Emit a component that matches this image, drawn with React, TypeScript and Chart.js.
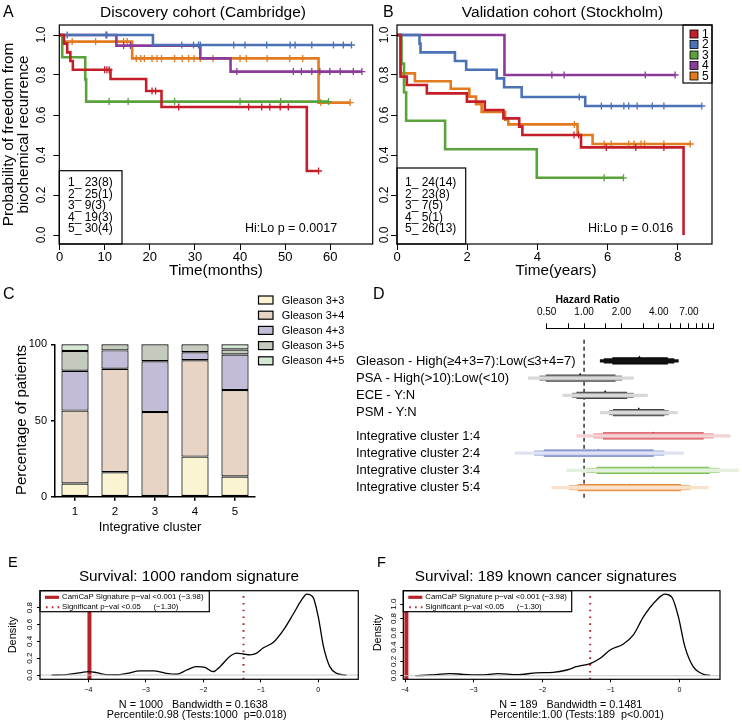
import React, { useEffect, useRef } from "react";
import { Chart, registerables } from "chart.js";

Chart.register(...registerables);

const SANS = '"Liberation Sans", Arial, Helvetica, sans-serif';
Chart.defaults.font.family = SANS;
Chart.defaults.color = "#000";

// ================= Panel A: Discovery cohort (time in months) =================
const aCountLabels = ["1_ 23(8)", "2_ 25(1)", "3_ 9(3)", "4_ 19(3)", "5_ 30(4)"];
const aC1Time = [0, 1.0, 1.7, 2.4, 2.95, 11.3, 19.2, 22.6, 54.8, 57.4];
const aC1Surv = [1, 0.957, 0.913, 0.87, 0.826, 0.78, 0.72, 0.64, 0.32, 0.32];
const aC1Cens = [10.0, 10.5, 11.0, 20.5, 21.3, 26.4, 41.9, 44.8, 46.6, 48.9, 50.7, 57.4];
const aC2Time = [0, 20.7, 64.7];
const aC2Surv = [1, 0.95, 0.95];
const aC2Cens = [1.7, 10.5, 27.1, 29.7, 30.8, 31.2, 38.6, 41.1, 45.9, 51.1, 52.2, 55.9, 60.7, 62.9, 64.7];
const aC3Time = [0, 0.6, 5.7, 5.9, 59.6];
const aC3Surv = [1, 0.889, 0.778, 0.667, 0.667];
const aC3Cens = [11.0, 15.2, 25.5, 40.0, 49.0, 59.6];
const aC4Time = [0, 12.6, 31.2, 37.9, 67.0];
const aC4Surv = [1, 0.947, 0.883, 0.817, 0.817];
const aC4Cens = [10.3, 14.2, 15.7, 39.3, 51.8, 53.6, 55.9, 57.7, 59.9, 62.2, 65.1, 67.0];
const aC5Time = [0, 0.7, 16.1, 57.4, 64.4];
const aC5Surv = [1, 0.967, 0.883, 0.662, 0.662];
const aC5Cens = [2.8, 8.0, 14.2, 15.0, 17.0, 18.0, 18.8, 20.5, 21.6, 22.6, 25.5, 27.2, 28.6, 29.8, 31.2, 34.0, 40.0, 41.4, 46.0, 51.0, 53.9, 57.9, 64.4];
const aXTicks = [0, 10, 20, 30, 40, 50, 60];

// ================= Panel B: Validation cohort (time in years) =================
const bCountLabels = ["1_ 24(14)", "2_ 23(8)", "3_ 7(5)", "4_ 5(1)", "5_ 26(13)"];
const bC1Time = [0, 0.1, 0.28, 0.85, 1.99, 2.5, 3.03, 3.48, 3.57, 5.24, 8.16];
const bC1Surv = [1, 0.792, 0.75, 0.708, 0.667, 0.625, 0.583, 0.542, 0.5, 0.438, 0];
const bC1Cens = [5.04, 5.17, 5.96, 6.8, 7.6];
const bC2Time = [0, 0.64, 0.67, 1.65, 1.97, 2.84, 3.05, 3.55, 5.36, 8.68];
const bC2Surv = [1, 0.957, 0.913, 0.87, 0.826, 0.783, 0.739, 0.69, 0.645, 0.645];
const bC2Cens = [5.19, 5.82, 6.1, 6.46, 6.6, 6.84, 7.27, 7.6, 8.68];
const bC3Time = [0, 0.13, 0.2, 0.26, 1.37, 3.98, 6.45];
const bC3Surv = [1, 0.857, 0.714, 0.571, 0.429, 0.286, 0.286];
const bC3Cens = [5.9, 6.45];
const bC4Time = [0, 3.06, 7.92];
const bC4Surv = [1, 0.8, 0.8];
const bC4Cens = [4.41, 4.76, 7.07, 7.92];
const bC5Time = [0, 0.1, 0.51, 1.53, 2.06, 2.25, 2.41, 3.08, 3.17, 5.14, 5.57, 8.35];
const bC5Surv = [1, 0.808, 0.769, 0.731, 0.692, 0.654, 0.615, 0.577, 0.553, 0.5, 0.455, 0.455];
const bC5Cens = [5.05, 5.9, 6.1, 6.6, 6.75, 6.95, 7.05, 7.6, 8.35];
const bXTicks = [0, 2, 4, 6, 8];
const clusterNames = ["1", "2", "3", "4", "5"];
const kmYTicks = [0, 0.2, 0.4, 0.6, 0.8, 1.0];

// ================= Panel C: Gleason composition (% of patients) =================
const gleasonLabels = ["Gleason 3+3", "Gleason 3+4", "Gleason 4+3", "Gleason 3+5", "Gleason 4+5"];
const g33 = [8.7, 16.0, 0, 26.3, 13.3];
const g34 = [47.8, 68.0, 55.6, 63.2, 56.7];
const g43 = [26.1, 12.0, 33.3, 5.3, 23.3];
const g35 = [13.0, 4.0, 11.1, 5.2, 3.3];
const g45 = [4.4, 0, 0, 0, 3.4];
const cYTicks = [0, 50, 100];

// ================= Panel D: Hazard ratios =================
const hrLabels = [
  "Gleason - High(≥4+3=7):Low(≤3+4=7)",
  "PSA - High(>10):Low(<10)",
  "ECE - Y:N",
  "PSM - Y:N",
  "Integrative cluster 1:4",
  "Integrative cluster 2:4",
  "Integrative cluster 3:4",
  "Integrative cluster 5:4",
];
const hrEstimate = [2.79, 0.93, 1.48, 2.76, 3.62, 1.31, 3.58, 2.32];
const hrOuterLow = [1.35, 0.356, 0.674, 1.35, 0.873, 0.278, 0.725, 0.549];
const hrOuterHigh = [5.75, 2.5, 3.24, 5.65, 15.0, 6.31, 17.5, 10.0];
const hrMidLow = [1.45, 0.44, 0.805, 1.6, 1.2, 0.398, 1.05, 0.761];
const hrMidHigh = [5.3, 2.01, 2.5, 4.78, 11.0, 4.41, 12.3, 7.15];
const hrInnerLow = [1.7, 0.494, 0.873, 1.72, 1.43, 0.476, 1.27, 0.9];
const hrInnerHigh = [4.7, 1.78, 2.21, 4.41, 9.15, 3.62, 10.2, 6.01];
const hrTicks = [0.5, 0.75, 1, 1.5, 2, 3, 4, 5, 6, 7, 8, 9, 10, 11];
const hrLabelledTicks = [0.5, 1, 2, 4, 7];

// ================= Panels E / F: density of signature scores =================
const eX = [-4.64, -4.38, -4.12, -4.0, -3.86, -3.68, -3.51, -3.33, -3.1, -2.87, -2.64, -2.46, -2.29, -2.12, -1.97, -1.83, -1.71, -1.54, -1.42, -1.3, -1.19, -1.07, -0.96, -0.78, -0.61, -0.43, -0.29, -0.2, -0.09, 0.0, 0.09, 0.2, 0.32, 0.49];
const eY = [0.0, 0.005, 0.03, 0.04, 0.03, 0.005, 0.004, 0.02, 0.05, 0.05, 0.02, 0.01, 0.06, 0.1, 0.09, 0.04, 0.1, 0.22, 0.26, 0.25, 0.24, 0.26, 0.32, 0.39, 0.53, 0.73, 0.89, 0.96, 0.92, 0.69, 0.34, 0.1, 0.02, 0.0];
const fX = [-3.85, -3.63, -3.34, -3.15, -2.9, -2.64, -2.37, -2.08, -1.84, -1.64, -1.5, -1.3, -1.16, -1.01, -0.82, -0.67, -0.52, -0.33, -0.21, -0.11, -0.015, 0.08, 0.2, 0.35, 0.45];
const fY = [0.0, 0.01, 0.03, 0.02, 0.01, 0.03, 0.014, 0.04, 0.047, 0.08, 0.126, 0.17, 0.24, 0.36, 0.44, 0.57, 0.83, 1.06, 1.14, 1.1, 0.83, 0.41, 0.13, 0.02, 0.005];
const camcapScore = -3.98;
const significanceCut = -1.3;
const densXTicks = [-4, -3, -2, -1, 0];
const eYTicks = [0, 0.2, 0.4, 0.6, 0.8];
const fYTicks = [0, 0.2, 0.4, 0.6, 0.8, 1.0];
const sigLegendTexts = ["CamCaP Signature p\u2212val <0.001 (\u22123.98)", "Significant p\u2212val <0.05", "(\u22121.30)"];

// ================= styles =================
const KM_COLORS = ["#C41E2A", "#4A72B5", "#5AA23B", "#8B3B98", "#E27A1F"];
const GLEASON_COLORS = ["#FAF4D3", "#E8D4C4", "#C3BCD8", "#C4CBBE", "#D4E8D3"];
const SIG_RED = "#B8222A";

type Txt = { t: string; x: number; y: number; size: number; align?: CanvasTextAlign; rot?: boolean; bold?: boolean };

function putText(ctx: CanvasRenderingContext2D, it: Txt, ox: number, oy: number) {
  ctx.save();
  ctx.font = `${it.bold ? "bold " : ""}${it.size}px ${SANS}`;
  ctx.fillStyle = "#000";
  ctx.textAlign = it.align || "left";
  ctx.textBaseline = "middle";
  ctx.translate(it.x - ox, it.y - oy);
  if (it.rot) ctx.rotate(-Math.PI / 2);
  ctx.fillText(it.t, 0, 0);
  ctx.restore();
}

function textPlugin(ox: number, oy: number, items: Txt[]) {
  return {
    id: "texts",
    afterDraw(chart: any) {
      items.forEach((it) => putText(chart.ctx, it, ox, oy));
    },
  };
}

function boxPlugin(lw: number) {
  return {
    id: "box",
    afterDraw(chart: any) {
      const { left, top, right, bottom } = chart.chartArea;
      const ctx = chart.ctx;
      ctx.save();
      ctx.strokeStyle = "#000";
      ctx.lineWidth = lw;
      ctx.strokeRect(left, top, right - left, bottom - top);
      ctx.restore();
    },
  };
}

function rotYTicks(offset: number, size: number, digits: number) {
  return {
    id: "rotY",
    afterDraw(chart: any) {
      const s = chart.scales.y;
      const ctx = chart.ctx;
      const x = chart.chartArea.left - offset;
      ctx.save();
      ctx.font = `${size}px ${SANS}`;
      ctx.fillStyle = "#000";
      ctx.textAlign = "center";
      ctx.textBaseline = "middle";
      s.ticks.forEach((tk: any) => {
        const y = s.getPixelForValue(tk.value);
        ctx.save();
        ctx.translate(x, y);
        ctx.rotate(-Math.PI / 2);
        ctx.fillText(Number(tk.value).toFixed(digits), 0, 0);
        ctx.restore();
      });
      ctx.restore();
    },
  };
}

function survAt(time: number[], surv: number[], t: number) {
  let s = surv[0];
  for (let i = 0; i < time.length; i++) if (time[i] <= t + 1e-9) s = surv[i];
  return s;
}

type Curve = { time: number[]; surv: number[]; cens: number[] };

function kmDatasets(curves: Curve[]) {
  const ds: any[] = [];
  curves.forEach((c, i) => {
    ds.push({
      type: "line",
      data: c.time.map((t, j) => ({ x: t, y: c.surv[j] })),
      borderColor: KM_COLORS[i],
      borderWidth: 2.6,
      stepped: true,
      pointRadius: 0,
      fill: false,
    });
    ds.push({
      type: "scatter",
      data: c.cens.map((t) => ({ x: t, y: survAt(c.time, c.surv, t) })),
      pointStyle: "cross",
      pointRadius: 3.5,
      borderColor: KM_COLORS[i],
      backgroundColor: KM_COLORS[i],
      borderWidth: 1.3,
    });
  });
  return ds;
}

function countLegend(ox: number, oy: number, rect: number[], textX: number, labels: string[]) {
  return {
    id: "countLegend",
    afterDatasetsDraw(chart: any) {
      const ctx = chart.ctx;
      const [x1, y1, x2, y2] = rect;
      ctx.save();
      ctx.fillStyle = "#fff";
      ctx.fillRect(x1 - ox, y1 - oy, x2 - x1, y2 - y1);
      ctx.strokeStyle = "#000";
      ctx.lineWidth = 1.2;
      ctx.strokeRect(x1 - ox, y1 - oy, x2 - x1, y2 - y1);
      ctx.font = `12px ${SANS}`;
      ctx.fillStyle = "#000";
      ctx.textBaseline = "middle";
      ctx.textAlign = "left";
      labels.forEach((l, i) => ctx.fillText(l, textX - ox, 183 + i * 11.5 - oy));
      ctx.restore();
    },
  };
}

function colorLegend(ox: number, oy: number) {
  return {
    id: "colorLegend",
    afterDatasetsDraw(chart: any) {
      const ctx = chart.ctx;
      ctx.save();
      ctx.fillStyle = "#fff";
      ctx.fillRect(683 - ox, 25 - oy, 29, 58);
      ctx.strokeStyle = "#000";
      ctx.lineWidth = 1.2;
      ctx.strokeRect(683 - ox, 25 - oy, 29, 58);
      ctx.font = `12px ${SANS}`;
      ctx.textBaseline = "middle";
      clusterNames.forEach((n, i) => {
        const y = 34 + i * 10.5 - oy;
        ctx.fillStyle = KM_COLORS[i];
        ctx.fillRect(690 - ox, y - 4, 8, 8);
        ctx.strokeStyle = "#000";
        ctx.lineWidth = 0.8;
        ctx.strokeRect(690 - ox, y - 4, 8, 8);
        ctx.fillStyle = "#000";
        ctx.fillText(n, 702 - ox, y + 0.5);
      });
      ctx.restore();
    },
  };
}

function buildKM(p: {
  curves: Curve[];
  xMin: number;
  xMax: number;
  xTicks: number[];
  yWidth: number;
  yLabelOffset: number;
  padRight: number;
  plugins: any[];
}) {
  return {
    type: "line",
    data: { datasets: kmDatasets(p.curves) },
    options: {
      responsive: false,
      maintainAspectRatio: false,
      animation: false,
      events: [],
      layout: { padding: { top: 25, right: p.padRight, left: 0, bottom: 0 } },
      plugins: { legend: { display: false }, tooltip: { enabled: false } },
      scales: {
        x: {
          type: "linear",
          min: p.xMin,
          max: p.xMax,
          bounds: "data",
          afterBuildTicks: (s: any) => {
            s.ticks = p.xTicks.map((v) => ({ value: v }));
          },
          ticks: { font: { size: 13 }, color: "#000", padding: 0, maxRotation: 0, autoSkip: false },
          grid: { drawOnChartArea: false, tickLength: 6, color: "#000", lineWidth: 1 },
          border: { display: false },
          afterFit: (s: any) => {
            s.height = 46;
          },
        },
        y: {
          type: "linear",
          min: -0.045,
          max: 1.05,
          bounds: "data",
          afterBuildTicks: (s: any) => {
            s.ticks = kmYTicks.map((v) => ({ value: v }));
          },
          ticks: { display: false },
          grid: { drawOnChartArea: false, tickLength: 6, color: "#000", lineWidth: 1 },
          border: { display: false },
          afterFit: (s: any) => {
            s.width = p.yWidth;
          },
        },
      },
    },
    plugins: [boxPlugin(1.2), rotYTicks(p.yLabelOffset, 12, 1), ...p.plugins],
  };
}

function buildA() {
  const curves = [
    { time: aC1Time, surv: aC1Surv, cens: aC1Cens },
    { time: aC2Time, surv: aC2Surv, cens: aC2Cens },
    { time: aC3Time, surv: aC3Surv, cens: aC3Cens },
    { time: aC4Time, surv: aC4Surv, cens: aC4Cens },
    { time: aC5Time, surv: aC5Surv, cens: aC5Cens },
  ];
  return buildKM({
    curves,
    xMin: -0.05,
    xMax: 69.4,
    xTicks: aXTicks,
    yWidth: 59.3,
    yLabelOffset: 18,
    padRight: 5,
    plugins: [
      countLegend(0, 0, [59.3, 170.7, 122, 244], 68, aCountLabels),
      textPlugin(0, 0, [
        { t: "A", x: 3, y: 13, size: 16 },
        { t: "Discovery cohort (Cambridge)", x: 203, y: 13, size: 15.5, align: "center" },
        { t: "Probability of freedom from", x: 9, y: 134.5, size: 15.3, align: "center", rot: true },
        { t: "biochemical recurrence", x: 23.5, y: 134.5, size: 15.3, align: "center", rot: true },
        { t: "Time(months)", x: 216, y: 271, size: 15.3, align: "center" },
        { t: "Hi:Lo p = 0.0017", x: 245, y: 229, size: 12.5 },
      ]),
    ],
  });
}

function buildB() {
  const ox = 378;
  const curves = [
    { time: bC1Time, surv: bC1Surv, cens: bC1Cens },
    { time: bC2Time, surv: bC2Surv, cens: bC2Cens },
    { time: bC3Time, surv: bC3Surv, cens: bC3Cens },
    { time: bC4Time, surv: bC4Surv, cens: bC4Cens },
    { time: bC5Time, surv: bC5Surv, cens: bC5Cens },
  ];
  return buildKM({
    curves,
    xMin: 0,
    xMax: 8.97,
    xTicks: bXTicks,
    yWidth: 19,
    yLabelOffset: 12,
    padRight: 30,
    plugins: [
      countLegend(ox, 0, [397, 168, 465.7, 244], 405, bCountLabels),
      colorLegend(ox, 0),
      textPlugin(ox, 0, [
        { t: "B", x: 383, y: 13, size: 16 },
        { t: "Validation cohort (Stockholm)", x: 562.5, y: 13, size: 15.5, align: "center" },
        { t: "Time(years)", x: 556, y: 271, size: 15.3, align: "center" },
        { t: "Hi:Lo p = 0.016", x: 588, y: 229, size: 12.5 },
      ]),
    ],
  });
}

function buildC() {
  const ox = 0;
  const oy = 285;
  const series = [g33, g34, g43, g35, g45];
  const legendPlugin = {
    id: "gleasonLegend",
    afterDraw(chart: any) {
      const ctx = chart.ctx;
      ctx.save();
      ctx.font = `11px ${SANS}`;
      ctx.textBaseline = "middle";
      gleasonLabels.forEach((l, i) => {
        const y = 300 + i * 15.2 - oy;
        ctx.fillStyle = GLEASON_COLORS[i];
        ctx.fillRect(258.5 - ox, y - 4, 14.5, 8);
        ctx.strokeStyle = "#000";
        ctx.lineWidth = 1.2;
        ctx.strokeRect(258.5 - ox, y - 4, 14.5, 8);
        ctx.fillStyle = "#000";
        ctx.fillText(l, 281.7 - ox, y + 0.5);
      });
      ctx.restore();
    },
  };
  return {
    type: "bar",
    data: {
      labels: clusterNames,
      datasets: series.map((d, i) => ({
        label: gleasonLabels[i],
        data: d,
        backgroundColor: GLEASON_COLORS[i],
        borderColor: "#000",
        borderWidth: 1.2,
        borderSkipped: false,
        barPercentage: 0.68,
        categoryPercentage: 1,
        clip: false,
      })),
    },
    options: {
      responsive: false,
      maintainAspectRatio: false,
      animation: false,
      events: [],
      layout: { padding: { top: 59.3, right: 95, left: 0, bottom: 0 } },
      plugins: { legend: { display: false }, tooltip: { enabled: false } },
      scales: {
        x: {
          stacked: true,
          ticks: { font: { size: 11.5 }, color: "#000", padding: 4.5, maxRotation: 0 },
          grid: { offset: false, drawOnChartArea: false, tickLength: 4, color: "#000", lineWidth: 1.5 },
          border: { display: true, color: "#000", width: 1.5 },
          afterFit: (s: any) => {
            s.height = 43.3;
          },
        },
        y: {
          stacked: true,
          min: 0,
          max: 100,
          afterBuildTicks: (s: any) => {
            s.ticks = cYTicks.map((v) => ({ value: v }));
          },
          ticks: { font: { size: 11 }, color: "#000", padding: 4 },
          grid: { drawOnChartArea: false, tickLength: 4, color: "#000", lineWidth: 1.5 },
          border: { display: true, color: "#000", width: 1.5 },
          afterFit: (s: any) => {
            s.width = 55;
          },
        },
      },
    },
    plugins: [
      legendPlugin,
      textPlugin(ox, oy, [
        { t: "C", x: 3, y: 295, size: 16 },
        { t: "Percentage of patients", x: 22, y: 420, size: 15, align: "center", rot: true },
        { t: "Integrative cluster", x: 150, y: 527, size: 13, align: "center" },
      ]),
    ],
  };
}

function buildD() {
  const ox = 350;
  const oy = 285;
  const rowPos = (i: number) => i + (i >= 4 ? 0.35 : 0);
  const levels = [
    {
      low: hrOuterLow,
      high: hrOuterHigh,
      thick: 2.5,
      colors: ["#111111", "#D8D8D8", "#D8D8D8", "#D8D8D8", "#F4D2D3", "#DEE2F3", "#E3F0DB", "#F9E1CC"],
    },
    {
      low: hrMidLow,
      high: hrMidHigh,
      thick: 4.5,
      colors: ["#111111", "#8E8E8E", "#8E8E8E", "#8E8E8E", "#E8999B", "#A8B0DE", "#B3DA9D", "#F2BA87"],
    },
    {
      low: hrInnerLow,
      high: hrInnerHigh,
      thick: 6.5,
      colors: ["#000000", "#474747", "#474747", "#474747", "#D2464C", "#6B7AC5", "#7CBF59", "#E6893F"],
    },
  ];
  const triColors = ["#000", "#000", "#000", "#000", "#B3232C", "#3F51A8", "#4A982B", "#CF6810"];
  const datasets: any[] = levels.map((l) => ({
    type: "bar",
    indexAxis: "y",
    data: hrLabels.map((_, i) => ({ x: [l.low[i], l.high[i]], y: rowPos(i) })),
    backgroundColor: l.colors,
    borderWidth: 0,
    barThickness: l.thick,
    grouped: false,
    clip: false,
  }));
  datasets.push({
    type: "scatter",
    data: hrEstimate.map((v, i) => ({ x: v, y: rowPos(i) })),
    pointStyle: "triangle",
    pointRadius: hrEstimate.map((_, i) => (i < 4 ? 5.5 : 4.5)),
    backgroundColor: triColors,
    borderColor: triColors,
    borderWidth: 0,
    clip: false,
  });
  datasets.push({
    type: "line",
    data: [
      { x: 1, y: -1.228 },
      { x: 1, y: 8.096 },
    ],
    borderColor: "#000",
    borderWidth: 1.2,
    borderDash: [4, 3],
    pointRadius: 0,
    clip: false,
  });
  const rowLabels = {
    id: "rowLabels",
    afterDraw(chart: any) {
      const s = chart.scales.y;
      const ctx = chart.ctx;
      ctx.save();
      ctx.font = `13px ${SANS}`;
      ctx.fillStyle = "#000";
      ctx.textAlign = "left";
      ctx.textBaseline = "middle";
      s.ticks.forEach((tk: any, i: number) => {
        ctx.fillText(hrLabels[i], 356 - ox, s.getPixelForValue(tk.value));
      });
      ctx.restore();
    },
  };
  return {
    type: "scatter",
    data: { datasets },
    options: {
      responsive: false,
      maintainAspectRatio: false,
      animation: false,
      events: [],
      layout: { padding: { top: 0, right: 28.7, left: 6, bottom: 13 } },
      plugins: { legend: { display: false }, tooltip: { enabled: false } },
      scales: {
        x: {
          type: "logarithmic",
          position: "top",
          min: 0.5,
          max: 11,
          afterBuildTicks: (s: any) => {
            s.ticks = hrTicks.map((v) => ({ value: v }));
          },
          ticks: {
            font: { size: 10 },
            color: "#000",
            padding: 4.6,
            autoSkip: false,
            maxRotation: 0,
            callback: (v: any) => (hrLabelledTicks.includes(Number(v)) ? Number(v).toFixed(2) : ""),
          },
          grid: { drawOnChartArea: false, tickLength: 5, color: "#000", lineWidth: 1 },
          border: { display: true, color: "#000", width: 1 },
          afterFit: (s: any) => {
            s.height = 43.3;
          },
        },
        y: {
          type: "linear",
          reverse: true,
          min: -1.228,
          max: 8.096,
          bounds: "data",
          afterBuildTicks: (s: any) => {
            s.ticks = hrLabels.map((_, i) => ({ value: rowPos(i) }));
          },
          ticks: { display: false },
          grid: { display: false },
          border: { display: false },
          afterFit: (s: any) => {
            s.width = 190.7;
          },
        },
      },
    },
    plugins: [
      rowLabels,
      textPlugin(ox, oy, [
        { t: "D", x: 373, y: 295, size: 16 },
        { t: "Hazard Ratio", x: 587.5, y: 300, size: 10.5, bold: true, align: "center" },
      ]),
    ],
  };
}

function sigLegend(ox: number, oy: number, x1: number, x2: number) {
  return {
    id: "sigLegend",
    afterDatasetsDraw(chart: any) {
      const ctx = chart.ctx;
      const y1 = 590.7;
      const y2 = 611.7;
      ctx.save();
      ctx.fillStyle = "#fff";
      ctx.fillRect(x1 - ox, y1 - oy, x2 - x1, y2 - y1);
      ctx.strokeStyle = "#000";
      ctx.lineWidth = 1.2;
      ctx.strokeRect(x1 - ox, y1 - oy, x2 - x1, y2 - y1);
      ctx.strokeStyle = SIG_RED;
      ctx.lineWidth = 3.2;
      ctx.beginPath();
      ctx.moveTo(x1 + 5 - ox, 597.3 - oy);
      ctx.lineTo(x1 + 19 - ox, 597.3 - oy);
      ctx.stroke();
      ctx.lineWidth = 2;
      ctx.setLineDash([1.6, 4.2]);
      ctx.beginPath();
      ctx.moveTo(x1 + 6 - ox, 607.3 - oy);
      ctx.lineTo(x1 + 20 - ox, 607.3 - oy);
      ctx.stroke();
      ctx.setLineDash([]);
      ctx.fillStyle = "#000";
      ctx.font = `7.8px ${SANS}`;
      ctx.textBaseline = "middle";
      ctx.fillText(sigLegendTexts[0], x1 + 22 - ox, 597.3 - oy);
      ctx.fillText(sigLegendTexts[1], x1 + 22 - ox, 607.3 - oy);
      ctx.fillText(sigLegendTexts[2], x1 + 113.5 - ox, 607.3 - oy);
      ctx.restore();
    },
  };
}

function minusFmt(v: number) {
  return v < 0 ? "\u2212" + Math.abs(v) : String(v);
}

function buildDensity(p: {
  xs: number[];
  ys: number[];
  xMin: number;
  xMax: number;
  yMin: number;
  yMax: number;
  yTicks: number[];
  yWidth: number;
  padRight: number;
  plugins: any[];
}) {
  return {
    type: "line",
    data: {
      datasets: [
        {
          data: [
            { x: p.xMin, y: 0 },
            { x: p.xMax, y: 0 },
          ],
          borderColor: "#C8C8C8",
          borderWidth: 1,
          pointRadius: 0,
        },
        {
          data: p.xs.map((x, i) => ({ x, y: p.ys[i] })),
          borderColor: "#000",
          borderWidth: 1.3,
          pointRadius: 0,
          cubicInterpolationMode: "monotone",
        },
        {
          data: [
            { x: camcapScore, y: p.yMin },
            { x: camcapScore, y: p.yMax },
          ],
          borderColor: SIG_RED,
          borderWidth: 4,
          pointRadius: 0,
        },
        {
          data: [
            { x: significanceCut, y: p.yMin },
            { x: significanceCut, y: p.yMax },
          ],
          borderColor: SIG_RED,
          borderWidth: 2,
          borderDash: [1.6, 5.2],
          pointRadius: 0,
        },
      ],
    },
    options: {
      responsive: false,
      maintainAspectRatio: false,
      animation: false,
      events: [],
      layout: { padding: { top: 50.7, right: p.padRight, left: 0, bottom: 0 } },
      plugins: { legend: { display: false }, tooltip: { enabled: false } },
      scales: {
        x: {
          type: "linear",
          min: p.xMin,
          max: p.xMax,
          bounds: "data",
          afterBuildTicks: (s: any) => {
            s.ticks = densXTicks.map((v) => ({ value: v }));
          },
          ticks: { font: { size: 7 }, color: "#000", padding: 4, maxRotation: 0, autoSkip: false, callback: (v: any) => minusFmt(Number(v)) },
          grid: { drawOnChartArea: false, tickLength: 3, color: "#000", lineWidth: 1 },
          border: { display: false },
          afterFit: (s: any) => {
            s.height = 44.7;
          },
        },
        y: {
          type: "linear",
          min: p.yMin,
          max: p.yMax,
          bounds: "data",
          afterBuildTicks: (s: any) => {
            s.ticks = p.yTicks.map((v) => ({ value: v }));
          },
          ticks: { display: false },
          grid: { drawOnChartArea: false, tickLength: 3, color: "#000", lineWidth: 1 },
          border: { display: false },
          afterFit: (s: any) => {
            s.width = p.yWidth;
          },
        },
      },
    },
    plugins: [boxPlugin(1.2), rotYTicks(10, 8, 1), ...p.plugins],
  };
}

function buildE() {
  const ox = 0;
  const oy = 540;
  return buildDensity({
    xs: eX,
    ys: eY,
    xMin: -4.84,
    xMax: 0.696,
    yMin: -0.05,
    yMax: 1.0,
    yTicks: eYTicks,
    yWidth: 40,
    padRight: 11.7,
    plugins: [
      sigLegend(ox, oy, 40, 209.3),
      textPlugin(ox, oy, [
        { t: "E", x: 8, y: 563.3, size: 14.5 },
        { t: "Survival: 1000 random signature", x: 189, y: 577, size: 15.3, align: "center" },
        { t: "Density", x: 13, y: 635, size: 11, align: "center", rot: true },
        { t: "N = 1000   Bandwidth = 0.1638", x: 193.3, y: 705, size: 10.8, align: "center" },
        { t: "Percentile:0.98 (Tests:1000  p=0.018)", x: 196.7, y: 715.5, size: 10.8, align: "center" },
      ]),
    ],
  });
}

function buildF() {
  const ox = 370;
  const oy = 540;
  return buildDensity({
    xs: fX,
    ys: fY,
    xMin: -4.025,
    xMax: 0.593,
    yMin: -0.05,
    yMax: 1.189,
    yTicks: fYTicks,
    yWidth: 33.3,
    padRight: 22,
    plugins: [
      sigLegend(ox, oy, 403.3, 571.7),
      textPlugin(ox, oy, [
        { t: "F", x: 377, y: 563.3, size: 14.5 },
        { t: "Survival: 189 known cancer signatures", x: 545.8, y: 577, size: 15.3, align: "center" },
        { t: "Density", x: 377.5, y: 633, size: 11, align: "center", rot: true },
        { t: "N = 189   Bandwidth = 0.1481", x: 570.8, y: 705, size: 10.8, align: "center" },
        { t: "Percentile:1.00 (Tests:189  p<0.001)", x: 577, y: 715.5, size: 10.8, align: "center" },
      ]),
    ],
  });
}

function ChartBox(props: { left: number; top: number; width: number; height: number; build: () => any }) {
  const ref = useRef<HTMLCanvasElement>(null);
  useEffect(() => {
    const chart = new Chart(ref.current as HTMLCanvasElement, props.build());
    return () => chart.destroy();
  }, []);
  return (
    <canvas
      ref={ref}
      width={props.width}
      height={props.height}
      style={{ position: "absolute", left: props.left, top: props.top, width: props.width, height: props.height }}
    />
  );
}

export default function App() {
  return (
    <div style={{ position: "absolute", left: 0, top: 0, width: 742, height: 724, background: "#fff", overflow: "hidden" }}>
      <ChartBox left={0} top={0} width={378} height={290} build={buildA} />
      <ChartBox left={378} top={0} width={364} height={290} build={buildB} />
      <ChartBox left={0} top={285} width={350} height={255} build={buildC} />
      <ChartBox left={350} top={285} width={392} height={240} build={buildD} />
      <ChartBox left={0} top={540} width={370} height={184} build={buildE} />
      <ChartBox left={370} top={540} width={372} height={184} build={buildF} />
    </div>
  );
}
